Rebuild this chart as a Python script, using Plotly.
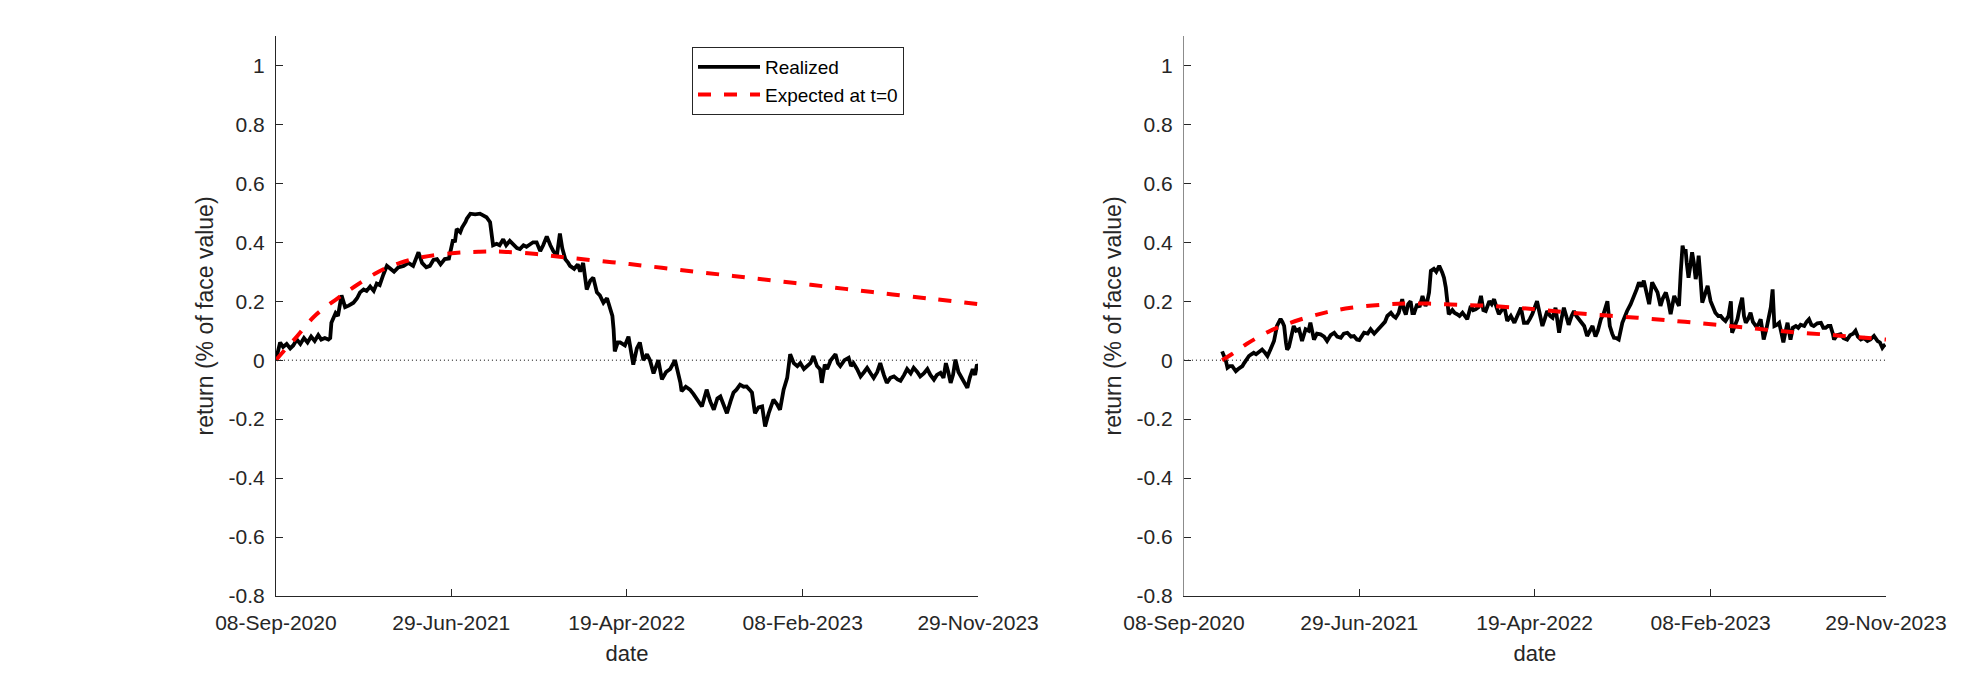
import pandas as pd
import plotly.graph_objects as go

START = "2020-09-08"
END = "2023-11-29"

tick_dates = ["2020-09-08", "2021-06-29", "2022-04-19", "2023-02-08", "2023-11-29"]
tick_text = ["08-Sep-2020", "29-Jun-2021", "19-Apr-2022", "08-Feb-2023", "29-Nov-2023"]
y_ticks = [-0.8, -0.6, -0.4, -0.2, 0, 0.2, 0.4, 0.6, 0.8, 1]
y_ticktext = ["-0.8", "-0.6", "-0.4", "-0.2", "0", "0.2", "0.4", "0.6", "0.8", "1"]

# ---- left panel: realized (days since start, value)
left_real_days = [0, 3, 7, 12, 18, 24, 29, 35, 41, 47, 53, 59, 65, 71, 76, 82, 88, 91, 93, 100,
                  104, 110, 116, 122, 130, 136, 141, 147, 152, 158, 164, 169, 174, 180, 186, 192, 198, 205, 214, 222,
                  230, 239, 245, 252, 258, 264, 270, 276, 283, 290, 297, 300, 303, 309, 312, 318, 320, 326, 334, 342,
                  348, 353, 359, 364, 370, 375, 381, 386, 392, 398, 404, 409, 415, 420, 426, 431, 437, 443, 448, 454,
                  460, 465, 471, 476, 480, 485, 490, 493, 500, 506, 510, 515, 521, 527, 532, 538, 543, 549, 555, 560,
                  564, 566, 568, 573, 577, 585, 591, 599, 605, 610, 616, 622, 627, 633, 641, 647, 654, 661, 669, 678,
                  680, 687, 694, 700, 706, 714, 722, 728, 734, 740, 745, 750, 756, 762, 767, 772, 778, 784, 789, 794,
                  798, 803, 809, 815, 820, 826, 834, 840, 845, 851, 857, 862, 868, 874, 879, 885, 890, 896, 901, 907,
                  912, 915, 920, 924, 930, 938, 942, 946, 953, 960, 964, 968, 974, 980, 986, 991, 997, 1002, 1008, 1013,
                  1019, 1024, 1030, 1036, 1042, 1047, 1053, 1058, 1064, 1069, 1075, 1080, 1086, 1092, 1097, 1103, 1108, 1114, 1119, 1123,
                  1127, 1131, 1135, 1139, 1144, 1148, 1153, 1159, 1163, 1168, 1172, 1175, 1177]
left_real_vals = [0.0, 0.03, 0.06, 0.045, 0.055, 0.04, 0.05, 0.07, 0.055, 0.075, 0.06, 0.08, 0.065, 0.085, 0.07, 0.075, 0.07, 0.075, 0.127, 0.16,
                  0.15, 0.22, 0.18, 0.185, 0.195, 0.21, 0.23, 0.24, 0.235, 0.25, 0.235, 0.26, 0.255, 0.29, 0.32, 0.31, 0.30, 0.315, 0.32, 0.33,
                  0.32, 0.366, 0.33, 0.315, 0.32, 0.34, 0.343, 0.325, 0.343, 0.345, 0.41, 0.40, 0.445, 0.434, 0.45, 0.47, 0.48, 0.497, 0.495, 0.497,
                  0.49, 0.485, 0.468, 0.39, 0.395, 0.39, 0.41, 0.39, 0.405, 0.394, 0.38, 0.377, 0.39, 0.385, 0.395, 0.40, 0.40, 0.37, 0.39, 0.42,
                  0.39, 0.37, 0.355, 0.43, 0.38, 0.343, 0.33, 0.32, 0.31, 0.325, 0.30, 0.33, 0.24, 0.27, 0.28, 0.23, 0.22, 0.195, 0.21, 0.18,
                  0.15, 0.105, 0.03, 0.06, 0.06, 0.05, 0.08, -0.015, 0.04, 0.06, 0.0, 0.02, 0.0, -0.045, 0.0, -0.065, -0.04, -0.03, 0.0, -0.077,
                  -0.105, -0.09, -0.1, -0.115, -0.134, -0.157, -0.1, -0.14, -0.168, -0.13, -0.123, -0.15, -0.18, -0.14, -0.11, -0.1, -0.083, -0.09, -0.089, -0.1,
                  -0.11, -0.18, -0.16, -0.157, -0.225, -0.18, -0.134, -0.15, -0.168, -0.1, -0.06, 0.02, -0.01, -0.02, -0.01, -0.03, -0.02, -0.01, 0.014, -0.02,
                  -0.03, -0.077, -0.015, -0.03, 0.0, 0.02, -0.01, -0.02, 0.0, 0.008, -0.02, -0.01, -0.03, -0.055, -0.04, -0.026, -0.045, -0.06, -0.04, -0.01,
                  -0.05, -0.077, -0.06, -0.055, -0.065, -0.07, -0.05, -0.03, -0.045, -0.026, -0.04, -0.055, -0.045, -0.03, -0.05, -0.066, -0.05, -0.043, -0.06, -0.01,
                  -0.04, -0.077, -0.05, 0.002, -0.04, -0.055, -0.07, -0.094, -0.06, -0.03, -0.05, -0.015, -0.02]

# ---- left panel: expected at t=0
left_exp_days = [0, 15, 35, 65, 100, 132, 172, 208, 247, 300, 342, 380, 437, 493, 593, 700, 800, 900, 1000, 1100, 1177]
left_exp_vals = [0.0, 0.035, 0.08, 0.15, 0.205, 0.25, 0.3, 0.33, 0.35, 0.364, 0.368, 0.368, 0.36, 0.347, 0.326,
                 0.301, 0.278, 0.255, 0.231, 0.208, 0.19]

# ---- right panel: realized
right_real_days = [64, 67, 70, 73, 77, 81, 84, 87, 91, 95, 98, 101, 105, 109, 113, 117, 121, 126, 131, 136,
                   140, 145, 151, 156, 162, 165, 168, 171, 173, 176, 179, 184, 188, 193, 198, 204, 209, 212, 218, 223,
                   229, 235, 240, 246, 252, 257, 263, 268, 274, 280, 285, 290, 294, 298, 302, 308, 313, 319, 324, 328,
                   333, 337, 341, 347, 351, 355, 360, 366, 369, 372, 376, 380, 383, 386, 391, 395, 400, 405, 408, 411,
                   414, 419, 423, 428, 433, 436, 439, 444, 450, 454, 458, 462, 467, 471, 475, 481, 485, 489, 494, 498,
                   502, 506, 512, 516, 520, 524, 528, 533, 537, 542, 548, 554, 559, 565, 570, 576, 580, 584, 592, 597,
                   601, 605, 609, 614, 618, 623, 629, 633, 637, 641, 645, 650, 654, 658, 662, 667, 671, 676, 680, 685,
                   690, 694, 699, 704, 710, 714, 718, 721, 725, 729, 735, 739, 743, 749, 755, 759, 763, 767, 771, 776,
                   780, 785, 789, 794, 799, 803, 808, 812, 816, 822, 826, 830, 833, 836, 838, 841, 843, 846, 849, 852,
                   855, 858, 861, 863, 866, 869, 873, 878, 883, 887, 891, 896, 900, 904, 908, 913, 917, 919, 924, 928,
                   932, 936, 939, 942, 946, 950, 954, 959, 963, 967, 970, 972, 977, 981, 984, 987, 990, 994, 998, 1002,
                   1005, 1009, 1012, 1017, 1021, 1026, 1030, 1034, 1040, 1044, 1048, 1052, 1056, 1062, 1068, 1072, 1076, 1080, 1084, 1088,
                   1090, 1095, 1101, 1106, 1112, 1117, 1122, 1126, 1130, 1135, 1140, 1146, 1151, 1157, 1160, 1163, 1167, 1171, 1174, 1176]
right_real_vals = [0.03, 0.014, 0.0, -0.026, -0.02, -0.02, -0.03, -0.0375, -0.03, -0.026, -0.02, -0.01, 0.005, 0.014, 0.02, 0.025, 0.02, 0.03, 0.036, 0.025,
                   0.014, 0.036, 0.065, 0.116, 0.14, 0.13, 0.116, 0.06, 0.036, 0.045, 0.07, 0.116, 0.1, 0.105, 0.065, 0.105, 0.1, 0.127, 0.07, 0.09,
                   0.0875, 0.08, 0.065, 0.085, 0.093, 0.08, 0.076, 0.09, 0.093, 0.08, 0.082, 0.07, 0.068, 0.08, 0.093, 0.09, 0.105, 0.09, 0.1, 0.11,
                   0.12, 0.13, 0.15, 0.161, 0.15, 0.144, 0.16, 0.207, 0.17, 0.155, 0.19, 0.2, 0.16, 0.16, 0.19, 0.18, 0.218, 0.184, 0.2, 0.23,
                   0.303, 0.31, 0.3, 0.32, 0.298, 0.28, 0.247, 0.156, 0.17, 0.16, 0.156, 0.15, 0.161, 0.15, 0.139, 0.184, 0.17, 0.173, 0.18, 0.218,
                   0.17, 0.167, 0.2, 0.19, 0.207, 0.18, 0.156, 0.17, 0.184, 0.133, 0.15, 0.127, 0.15, 0.178, 0.127, 0.127, 0.14, 0.156, 0.2, 0.16,
                   0.116, 0.14, 0.167, 0.15, 0.144, 0.178, 0.093, 0.14, 0.178, 0.15, 0.12, 0.15, 0.167, 0.15, 0.139, 0.13, 0.116, 0.082, 0.1, 0.116,
                   0.08, 0.1, 0.139, 0.16, 0.2, 0.116, 0.09, 0.076, 0.075, 0.07, 0.127, 0.15, 0.167, 0.19, 0.218, 0.24, 0.264, 0.25, 0.27, 0.22,
                   0.19, 0.264, 0.25, 0.23, 0.184, 0.21, 0.23, 0.2, 0.156, 0.218, 0.2, 0.184, 0.3, 0.389, 0.37, 0.377, 0.33, 0.28, 0.32, 0.366,
                   0.33, 0.275, 0.31, 0.355, 0.28, 0.195, 0.22, 0.252, 0.2, 0.18, 0.161, 0.15, 0.15, 0.14, 0.133, 0.15, 0.2, 0.093, 0.12, 0.139,
                   0.18, 0.212, 0.15, 0.127, 0.14, 0.161, 0.13, 0.116, 0.12, 0.139, 0.1, 0.07, 0.11, 0.15, 0.18, 0.24, 0.116, 0.12, 0.127, 0.09,
                   0.06, 0.1, 0.127, 0.07, 0.11, 0.116, 0.11, 0.12, 0.116, 0.13, 0.139, 0.12, 0.116, 0.125, 0.127, 0.11, 0.11, 0.116, 0.116, 0.09,
                   0.07, 0.085, 0.088, 0.075, 0.07, 0.085, 0.09, 0.1, 0.08, 0.07, 0.075, 0.065, 0.07, 0.082, 0.07, 0.065, 0.06, 0.042, 0.05, 0.053]

# ---- right panel: expected at t=0
right_exp_days = [64, 80, 105, 148, 195, 240, 280, 330, 370, 411, 460, 505, 550, 593, 665, 760, 840, 923, 1005, 1095, 1177]
right_exp_vals = [0.0, 0.02, 0.055, 0.103, 0.138, 0.163, 0.178, 0.188, 0.192, 0.192, 0.188, 0.185, 0.179, 0.172,
                  0.158, 0.144, 0.13, 0.114, 0.098, 0.084, 0.07]

zero_dates = [START, END]
zero_vals = [0, 0]


def to_dates(days):
    return pd.Timestamp(START) + pd.to_timedelta(days, unit="D")


TXT = "#262626"
FONT = "Liberation Sans, Arial, sans-serif"

fig = go.Figure()
panels = [
    ("x", "y", left_real_days, left_real_vals, left_exp_days, left_exp_vals, True),
    ("x2", "y2", right_real_days, right_real_vals, right_exp_days, right_exp_vals, False),
]
for xa, ya, rd, rv, ed, ev, show in panels:
    fig.add_trace(go.Scatter(x=to_dates(rd), y=rv, mode="lines", name="Realized",
                             line=dict(color="#000000", width=3.8), xaxis=xa, yaxis=ya,
                             showlegend=show))
    fig.add_trace(go.Scatter(x=to_dates(ed), y=ev, mode="lines", name="Expected at t=0",
                             line=dict(color="#FF0000", width=4, dash="13px,13px", shape="spline"),
                             xaxis=xa, yaxis=ya, showlegend=show))
    fig.add_trace(go.Scatter(x=pd.to_datetime(zero_dates), y=zero_vals, mode="lines",
                             line=dict(color="#000000", width=1, dash="1px,3px"),
                             xaxis=xa, yaxis=ya, showlegend=False, hoverinfo="skip"))

xcommon = dict(
    type="date", range=[START, END], tickmode="array",
    tickvals=pd.to_datetime(tick_dates), ticktext=tick_text,
    showline=True, linecolor=TXT, linewidth=1, ticks="inside", ticklen=7, tickcolor=TXT,
    showgrid=False, zeroline=False, tickfont=dict(family=FONT, size=21, color=TXT),
    ticklabelstandoff=8, automargin=False,
    title=dict(text="date", font=dict(family=FONT, size=22, color=TXT), standoff=12),
)
ycommon = dict(
    range=[-0.8, 1.1], tickmode="array", tickvals=y_ticks, ticktext=y_ticktext,
    showline=True, linewidth=1, ticks="inside", ticklen=7, tickcolor=TXT,
    showgrid=False, zeroline=False, tickfont=dict(family=FONT, size=21, color=TXT),
    ticklabelstandoff=6, domain=[0.1400, 0.9481], automargin=False,
    title=dict(text="return (% of face value)", font=dict(family=FONT, size=23, color=TXT), standoff=8),
)

fig.update_layout(
    width=1968, height=693,
    margin=dict(l=0, r=0, t=0, b=0, autoexpand=False),
    paper_bgcolor="white", plot_bgcolor="white",
    xaxis=dict(xcommon, domain=[0.1402, 0.4970], anchor="y"),
    xaxis2=dict(xcommon, domain=[0.6016, 0.9583], anchor="y2"),
    yaxis=dict(ycommon, anchor="x", linecolor=TXT),
    yaxis2=dict(ycommon, anchor="x2", linecolor="#8c8c8c"),
    legend=dict(x=692 / 1968, y=1 - 47 / 693, xanchor="left", yanchor="top",
                bgcolor="white", bordercolor=TXT, borderwidth=1,
                font=dict(family=FONT, size=19, color="#000000"),
                tracegroupgap=0, itemwidth=62),
    showlegend=True,
)

fig.write_html("out.html")
